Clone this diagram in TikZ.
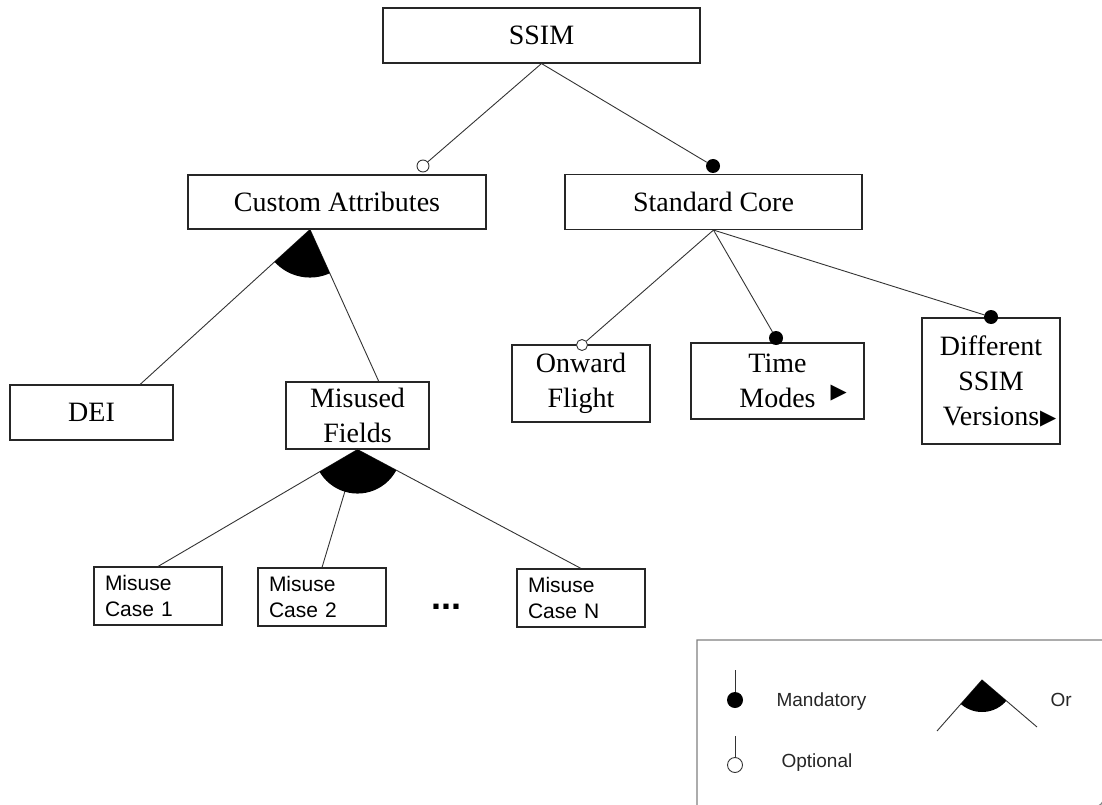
\documentclass[tikz,border=0pt]{standalone}
\usepackage{fontspec}
\setmainfont{Liberation Serif}
\newfontfamily\arialfont{Liberation Sans}
\newfontfamily\trifont{DejaVu Sans}
\usetikzlibrary{calc}

\tikzset{
  feat/.style={draw=black!85, line width=1.1pt, inner sep=0pt, align=center,
    font=\fontsize{28}{35}\selectfont},
  misuse/.style={draw=black!85, line width=1.1pt, inner xsep=11pt, inner ysep=0pt,
    text width=106pt, align=left, minimum height=58pt,
    font=\arialfont\fontsize{21}{26}\selectfont},
  conn/.style={draw=black!80, line width=0.9pt},
  mand/.style={circle, fill=black, inner sep=0pt, minimum size=14pt},
  opt/.style={circle, draw=black!80, line width=0.9pt, fill=white, inner sep=0pt, minimum size=12pt},
  legtxt/.style={anchor=west, font=\arialfont\fontsize{19}{22}\selectfont, text=black!85},
}
\newcommand{\tri}[2]{\rlap{\hspace{#1}\raisebox{#2}{\trifont\fontsize{21}{21}\selectfont ▶}}}

\begin{document}
\begin{tikzpicture}[x=1pt, y=-1pt]
  \clip (0,0) rectangle (1102,805);  %Bildrand
  % Merkmale
  \node[feat, minimum width=317pt, minimum height=55pt] (ssim) at (541.5,35.5) {SSIM};
  \node[feat, minimum width=298pt, minimum height=54pt] (ca) at (337,202) {Custom Attributes};
  \node[feat, minimum width=297pt, minimum height=55pt] (sc) at (713.5,202) {Standard Core};
  \node[feat, minimum width=163pt, minimum height=55pt] (dei) at (91.5,412.5) {DEI};
  \node[feat, minimum width=143pt, minimum height=67pt] (mf) at (357.5,415.5) {Misused\\Fields};
  \node[feat, minimum width=138pt, minimum height=77pt] (of) at (581,383.5) {Onward\\Flight};
  \node[feat, minimum width=173pt, minimum height=76pt] (tm) at (777.5,381) {Time\\Modes\tri{15pt}{9pt}};
  \node[feat, minimum width=138pt, minimum height=126pt] (dsv) at (991,381) {Different\\SSIM\\Versions\tri{1pt}{1pt}};
  \foreach \n/\x/\y/\nr in {mc1/158/596/1, mc2/322/597/2, mcn/581/598/N}
    \node[misuse] (\n) at (\x,\y) {Misuse\\Case \nr};  %Missbrauchsfaelle
  \node[anchor=base, font=\arialfont\bfseries\fontsize{36}{36}\selectfont] (dots) at (446,609) {...};

  % Mandatory / Optional Punkte
  \node[opt] (ca-o) at (423,166) {};
  \node[mand] (sc-m) at (713,166) {};
  \node[opt, minimum size=11pt] (of-o) at (582,345) {};
  \node[mand] (tm-m) at (776,338) {};
  \node[mand] (dsv-m) at (991,317) {};
  \coordinate (ca-or) at ($(ca.south)+(-27,0)$);  %Spitze der Or-Gruppe

  % Kanten
  \draw[conn] (ssim.south) -- (ca-o);
  \draw[conn] (ssim.south) -- (sc-m);
  \draw[conn] (sc.south) -- (of-o);
  \draw[conn] (sc.south) -- (tm-m);
  \draw[conn] (sc.south) -- (dsv-m);
  \draw[conn] (ca-or) -- (dei.30);
  \draw[conn] (ca-or) -- (mf.58);
  \foreach \n in {mc1,mc2,mcn}
    \draw[conn] (mf.south) -- (\n.north);

  % Or-Boegen
  \begin{scope}
    \clip (ca-or) -- (dei.30) -- (mf.58) -- cycle;
    \fill (ca-or) circle (48pt);
  \end{scope}
  \begin{scope}
    \clip (mf.south) -- (mc1.north) -- (mcn.north) -- cycle;
    \fill (mf.south) circle (44pt);
  \end{scope}

  % Legende
  \draw[black!50, line width=1.2pt] (697,820) -- (697,640) -- (1108,640)
    {[rounded corners=10pt] -- (1104,640) -- (1104,807) -- (690,807)};
  \coordinate (lg-mtop) at (735,670);
  \node[mand, minimum size=16pt] (lg-m) at (735,700) {};
  \draw[conn] (lg-mtop) -- (lg-m);
  \node[legtxt] (lg-mtxt) at (773,702) {Mandatory};
  \coordinate (lg-otop) at (735,736);
  \node[opt, minimum size=15pt] (lg-o) at (735,765) {};
  \draw[conn] (lg-otop) -- (lg-o);
  \node[legtxt] (lg-otxt) at (778,763) {Optional};
  \coordinate (lg-or) at (982,680);
  \coordinate (lg-l) at (937,731);
  \coordinate (lg-r) at (1037,727);
  \draw[conn] (lg-l) -- (lg-or) -- (lg-r);
  \begin{scope}
    \clip (lg-or) -- (lg-l) -- (lg-r) -- cycle;
    \fill (lg-or) circle (32pt);
  \end{scope}
  \node[legtxt] (lg-ortxt) at (1047,700) {Or};
\end{tikzpicture}
\end{document}
